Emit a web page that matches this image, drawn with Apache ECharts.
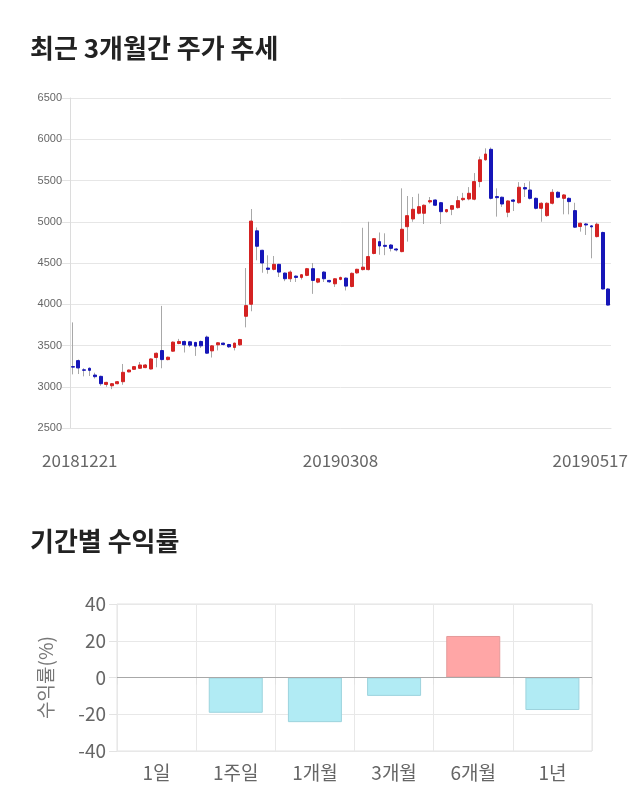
<!DOCTYPE html>
<html>
<head>
<meta charset="utf-8">
<script src="https://cdn.jsdelivr.net/npm/echarts@6/dist/echarts.min.js"></script>
<style>
html,body{margin:0;padding:0;background:#fff;}
#c{width:640px;height:810px;}
</style>
</head>
<body>
<div id="c"></div>
<script>
// ---- data ----
const dates = [
 '20181221','20181224','20181226','20181227','20181228',
 '20190102','20190103','20190104','20190107','20190108','20190109','20190110','20190111',
 '20190114','20190115','20190116','20190117','20190118','20190121','20190122','20190123',
 '20190124','20190125','20190128','20190129','20190130','20190131',
 '20190201','20190207','20190208','20190211','20190212','20190213','20190214','20190215',
 '20190218','20190219','20190220','20190221','20190222','20190225','20190226','20190227','20190228',
 '20190304','20190305','20190306','20190307','20190308','20190311','20190312','20190313','20190314','20190315',
 '20190318','20190319','20190320','20190321','20190322','20190325','20190326','20190327','20190328','20190329',
 '20190401','20190402','20190403','20190404','20190405','20190408','20190409','20190410','20190411','20190412',
 '20190415','20190416','20190417','20190418','20190419','20190422','20190423','20190424','20190425','20190426',
 '20190429','20190430',
 '20190502','20190503','20190507','20190508','20190509','20190510',
 '20190513','20190514','20190515','20190516','20190517'
];
const openP  = [3244,3317,3205,3224,3142,3126,3028,3012,3037,3061,3180,3211,3224,3232,3215,3354,3439,3329,3431,3524,
                3549,3545,3537,3549,3602,3435,3508,3529,3512,3476,3508,3854,4000,4890,4654,4439,4423,4484,4378,4309,
                4341,4325,4350,4431,4268,4390,4289,4248,4301,4317,4215,4380,4420,4420,4615,4759,4714,4718,4670,4638,
                4940,5034,5103,5103,5240,5264,5231,5122,5151,5171,5268,5276,5273,5487,5751,5878,5305,5297,5115,5264,
                5231,5414,5385,5284,5163,5074,5224,5357,5284,5284,5135,4942,4973,4950,4820,4870,4185];
const closeP = [3238,3228,3200,3199,3122,3037,3053,3037,3061,3175,3203,3244,3264,3264,3337,3406,3329,3358,3541,3549,
                3508,3504,3492,3496,3407,3496,3533,3512,3484,3529,3573,3984,5008,4703,4500,4423,4484,4390,4309,4390,
                4325,4358,4431,4289,4309,4309,4272,4309,4325,4220,4375,4424,4450,4578,4795,4706,4702,4678,4658,4909,
                5074,5151,5183,5200,5256,5200,5122,5147,5195,5256,5284,5345,5487,5751,5821,5284,5292,5215,5252,5248,
                5418,5397,5284,5163,5224,5224,5357,5297,5325,5244,4934,4982,4961,4938,4970,4185,3990];
const lowP   = [3150,3154,3126,3130,3100,3012,3000,2971,3030,3024,3175,3205,3215,3225,3210,3236,3224,3320,3425,3515,
                3415,3480,3374,3470,3400,3354,3440,3500,3470,3440,3495,3720,3915,4533,4382,4370,4410,4330,4280,4270,
                4270,4300,4340,4126,4255,4270,4260,4210,4290,4167,4205,4370,4410,4410,4605,4600,4595,4640,4640,4630,
                4759,5000,5090,4973,5220,5190,4973,5110,5080,5160,5250,5260,5260,5418,5740,5270,5062,5180,5055,5130,
                5220,5300,5270,5150,5000,5060,5210,5285,5090,5090,4925,4880,4840,4557,4810,4180,3985];
const highP  = [3780,3330,3225,3235,3170,3135,3060,3045,3070,3276,3210,3250,3300,3275,3345,3415,3980,3365,3550,3580,
                3560,3555,3545,3560,3620,3505,3540,3535,3520,3535,3580,4439,5154,4931,4660,4593,4585,4490,4385,4410,
                4350,4365,4440,4500,4315,4400,4295,4315,4335,4325,4385,4430,4927,5000,4800,4870,4860,4730,4680,5405,
                5312,5300,5340,5210,5300,5270,5240,5155,5200,5310,5350,5420,5590,5790,5890,5900,5405,5305,5260,5275,
                5480,5470,5490,5295,5235,5235,5395,5370,5335,5295,5230,4990,4985,4960,4990,4880,4195];
const priceMin = 2500, priceMax = 6500, priceStep = 500;
const dateLabelIdx = [0, 48, 96];

const periods = ['1일','1주일','1개월','3개월','6개월','1년'];
const returns = [0, -19.2, -24.3, -10.0, 22.6, -17.7];
const retMin = -40, retMax = 40, retStep = 20;

// ---- chart ----
const UP = '#d42222', DOWN = '#1616b8', WICK = '#a8a8a8';
const FONT = '"Noto Sans CJK KR", "Noto Sans", sans-serif';
const wickData = dates.map((d, i) => [openP[i], closeP[i], lowP[i], highP[i]]);
const bodyData = dates.map((d, i) => [openP[i], closeP[i], Math.min(openP[i], closeP[i]), Math.max(openP[i], closeP[i])]);

const chart = echarts.init(document.getElementById('c'), null, {renderer: 'canvas'});
chart.setOption({
  animation: false,
  backgroundColor: '#fff',
  textStyle: {fontFamily: FONT},
  title: [
    {text: '최근 3개월간 주가 추세', left: 30, top: 35, padding: 0,
     textStyle: {fontSize: 26, fontWeight: 'bold', color: '#222', fontFamily: FONT}},
    {text: '기간별 수익률', left: 30, top: 528, padding: 0,
     textStyle: {fontSize: 26, fontWeight: 'bold', color: '#222', fontFamily: FONT}}
  ],
  grid: [
    {left: 70, right: 29, top: 98, height: 330},
    {left: 117, right: 48, top: 604, height: 147, show: true, borderColor: '#e3e3e3', borderWidth: 1}
  ],
  xAxis: [
    {type: 'category', gridIndex: 0, data: dates, boundaryGap: true,
     axisLine: {show: true, lineStyle: {color: '#e3e3e3'}},
     axisTick: {show: false},
     splitLine: {show: false},
     axisLabel: {
       interval: (idx) => dateLabelIdx.indexOf(idx) >= 0,
       margin: 24, fontSize: 17, color: '#666', fontFamily: FONT,
       formatter: (v, idx) => idx === 0 ? '{a|' + v + '}' : (idx === dates.length - 1 ? '{b|' + v + '}' : v),
       rich: {
         a: {padding: [0, 0, 0, 14], fontSize: 17, color: '#666', fontFamily: FONT},
         b: {padding: [0, 36, 0, 0], fontSize: 17, color: '#666', fontFamily: FONT}
       }
     }},
    {type: 'category', gridIndex: 1, data: periods,
     axisLine: {show: false},
     axisTick: {show: true, length: 7, lineStyle: {color: '#e3e3e3'}},
     splitLine: {show: true, lineStyle: {color: '#e8e8e8'}},
     axisLabel: {margin: 12, fontSize: 19, color: '#666', fontFamily: FONT}}
  ],
  yAxis: [
    {type: 'value', gridIndex: 0, min: priceMin, max: priceMax, interval: priceStep,
     axisLine: {show: true, lineStyle: {color: '#dcdcdc'}},
     axisTick: {show: true, length: 8, lineStyle: {color: '#e3e3e3'}},
     splitLine: {lineStyle: {color: '#e6e6e6'}},
     axisLabel: {margin: 8, fontSize: 11, color: '#666', fontFamily: 'Arial, "Liberation Sans", sans-serif',
       formatter: (v) => String(v)}},
    {type: 'value', gridIndex: 1, min: retMin, max: retMax, interval: retStep,
     name: '수익률(%)', nameLocation: 'middle', nameRotate: 90, nameGap: 62,
     nameTextStyle: {fontSize: 19, color: '#777', fontFamily: FONT},
     axisLine: {show: false},
     axisTick: {show: true, length: 8, lineStyle: {color: '#e3e3e3'}},
     splitLine: {lineStyle: {color: '#e8e8e8'}},
     axisLabel: {margin: 11, fontSize: 19, color: '#666', fontFamily: FONT}}
  ],
  series: [
    {type: 'candlestick', xAxisIndex: 0, yAxisIndex: 0, data: wickData, barWidth: 1,
     itemStyle: {color: WICK, color0: WICK, borderColor: WICK, borderColor0: WICK, borderWidth: 1}},
    {type: 'candlestick', xAxisIndex: 0, yAxisIndex: 0, data: bodyData, barWidth: 3.4,
     itemStyle: {color: UP, color0: DOWN, borderColor: UP, borderColor0: DOWN, borderWidth: 1}},
    {type: 'bar', xAxisIndex: 1, yAxisIndex: 1, barWidth: 54,
     data: returns.map(v => ({value: v, itemStyle: v >= 0
        ? {color: '#ffa6a6', borderColor: '#e59a9a', borderWidth: 1}
        : {color: '#b1ebf4', borderColor: '#9dd3dd', borderWidth: 1}})),
     markLine: {silent: true, symbol: 'none', label: {show: false},
       lineStyle: {color: '#a8a8a8', type: 'solid', width: 1}, data: [{yAxis: 0}]}}
  ]
});
</script>
</body>
</html>
